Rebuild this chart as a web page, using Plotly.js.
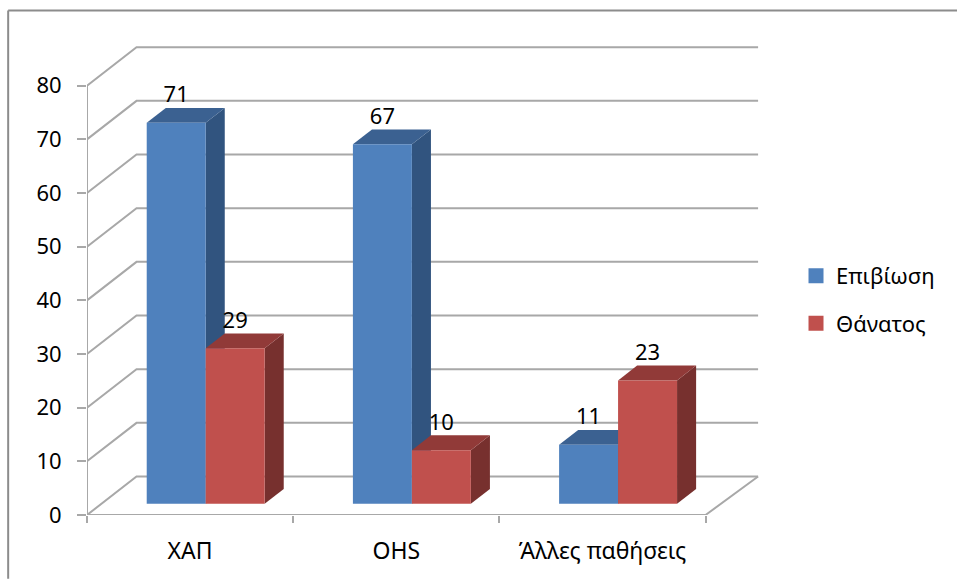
<!DOCTYPE html>
<html>
<head>
<meta charset="utf-8">
<script src="https://cdn.plot.ly/plotly-3.0.1.min.js"></script>
<style>html,body{margin:0;padding:0;background:#fff}</style>
</head>
<body>
<div id="chart" style="width:957px;height:579px"></div>
<script>
// Outcome counts per diagnosis group
const categories = ["ΧΑΠ", "OHS", "Άλλες παθήσεις"];
const survival = [71, 67, 11];
const death = [29, 10, 23];
const seriesNames = ["Επιβίωση", "Θάνατος"];
const axisTicks = [0, 10, 20, 30, 40, 50, 60, 70, 80];

// Palette: front, side and top face of each series
const blueFaces = {front: "#4f81bd", side: "#31547f", top: "#3b6191"};
const redFaces = {front: "#c0504d", side: "#77302e", top: "#913a38"};
const gridColor = "#a8a8a8";
const font = '"Noto Sans", sans-serif';

// Oblique projection of the 3D box: depth d runs 0 (front) to 1 (back wall)
const W = 957, H = 579, L = 87.3, T = 40, R = 770, B = 515.3;
const pxPerCat = 206.1, pxPerVal = 5.37, depthX = 49.5, depthY = 38.5;
const px = (u, v, d) => u + d * depthX / pxPerCat;
const py = (u, v, d) => v + d * depthY / pxPerVal;
const poly = pts => ({x: pts.map(p => px(...p)), y: pts.map(p => py(...p))});

const traces = [];
function line(pts, width) {
  traces.push({...poly(pts), type: "scatter", mode: "lines", showlegend: false, hoverinfo: "skip",
    cliponaxis: false, line: {color: gridColor, width: width || 2}});
}
function face(pts, color) {
  const closed = pts.concat([pts[0]]);
  traces.push({...poly(closed), type: "scatter", mode: "lines", fill: "toself", fillcolor: color,
    showlegend: false, hoverinfo: "skip", cliponaxis: false, line: {width: 0, color: color}});
}

// Walls, floor and axis lines; the back wall runs slightly past the last category
const n = categories.length;
const wallEnd = n + 3 / pxPerCat;
axisTicks.forEach(t => line([[0, t, 0], [0, t, 1], [wallEnd, t, 1]]));
line([[0, 0, 0], [n, 0, 0], [wallEnd, 0, 1]]);
line([[0, 0, 0], [0, 80, 0]]);

// Bars
const gap = 0.22, barW = 0.286, d0 = 0.29, d1 = 0.675;
function bar(u0, val, faces) {
  const u1 = u0 + barW;
  face([[u1, 0, d0], [u1, 0, d1], [u1, val, d1], [u1, val, d0]], faces.side);
  face([[u0, val, d0], [u1, val, d0], [u1, val, d1], [u0, val, d1]], faces.top);
  face([[u0, 0, d0], [u1, 0, d0], [u1, val, d0], [u0, val, d0]], faces.front);
}
categories.forEach((c, i) => {
  bar(i + gap, survival[i], blueFaces);
  bar(i + gap + barW, death[i], redFaces);
});

// Value labels, floating over each front face
const labelLift = 26 / pxPerVal;
const labelX = [], labelY = [], labelText = [];
categories.forEach((c, i) => {
  [[survival[i], 0], [death[i], 1]].forEach(([val, s]) => {
    const u = i + gap + barW * (s + 0.5);
    labelX.push(px(u, val, d0));
    labelY.push(py(u, val, d0) + labelLift);
    labelText.push(String(val));
  });
});
traces.push({x: labelX, y: labelY, text: labelText, type: "scatter", mode: "text",
  textposition: "middle center", cliponaxis: false, showlegend: false, hoverinfo: "skip",
  textfont: {family: font, size: 22, color: "#000"}});

// Legend entries
[[seriesNames[0], blueFaces.front], [seriesNames[1], redFaces.front]].forEach(([name, color]) => {
  traces.push({x: [null], y: [null], name: name, legendgroup: name, type: "scatter", mode: "markers",
    marker: {symbol: "square", size: 15, color: color}});
});

const layout = {
  width: W, height: H,
  margin: {l: L, r: W - R, t: T, b: H - B, pad: 0},
  paper_bgcolor: "#fff", plot_bgcolor: "rgba(0,0,0,0)",
  showlegend: true,
  legend: {x: (796 - L) / (R - L), xanchor: "left", y: (H - 255 - (H - B)) / (B - T), yanchor: "top",
    tracegroupgap: 16, font: {family: font, size: 22, color: "#000"}, bgcolor: "rgba(0,0,0,0)"},
  xaxis: {range: [0, (R - L) / pxPerCat], showgrid: false, zeroline: false, showline: false,
    tickmode: "array", tickvals: categories.map((c, i) => i + 0.5), ticktext: categories,
    ticks: "", ticklabelstandoff: 20, tickfont: {family: font, size: 23, color: "#000"},
    minor: {tickmode: "array", tickvals: categories.map((c, i) => i).concat([n]), ticks: "outside",
      ticklen: 7, tickwidth: 2, tickcolor: gridColor, showgrid: false}},
  yaxis: {range: [0, (B - T) / pxPerVal], showgrid: false, zeroline: false, showline: false,
    tickmode: "array", tickvals: axisTicks, ticks: "outside", ticklen: 9, tickwidth: 2, tickcolor: gridColor,
    ticklabelstandoff: 11, tickfont: {family: font, size: 22, color: "#000"}},
  shapes: [
    {type: "line", xref: "paper", yref: "paper", layer: "below", line: {color: "#8c8c8c", width: 2},
      x0: (8.5 - L) / (R - L), x1: (8.5 - L) / (R - L), y0: (B - 10.5) / (B - T), y1: (B - H) / (B - T)},
    {type: "line", xref: "paper", yref: "paper", layer: "below", line: {color: "#8c8c8c", width: 2},
      x0: (8.5 - L) / (R - L), x1: (W - L) / (R - L), y0: (B - 10.5) / (B - T), y1: (B - 10.5) / (B - T)}
  ]
};

Plotly.newPlot("chart", traces, layout, {displayModeBar: false, staticPlot: true});
</script>
</body>
</html>
